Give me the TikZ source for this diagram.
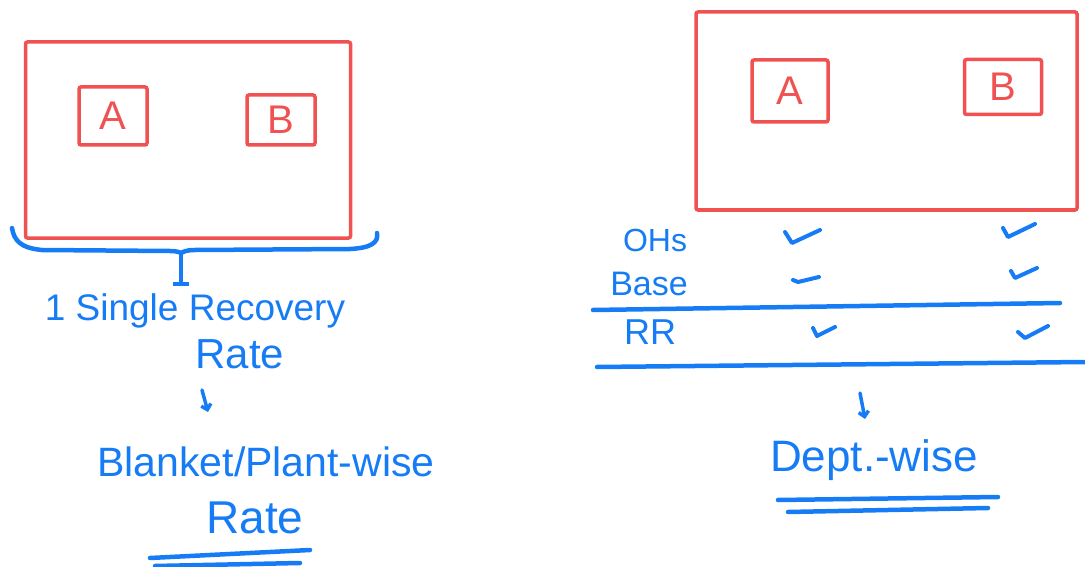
\documentclass[tikz,border=0pt]{standalone}
\usepackage{fontspec}
\setmainfont{Liberation Sans}
\usetikzlibrary{arrows.meta}
\definecolor{inkred}{RGB}{240,82,82}
\definecolor{inkblue}{RGB}{22,124,245}
\tikzset{
  redbox/.style={draw=inkred, line width=3.5pt, rounded corners=2pt, inner sep=0pt},
  redletter/.style={text=inkred, font=\fontsize{40}{40}\selectfont},
  bluestroke/.style={draw=inkblue, line width=4.5pt, line cap=round, line join=round},
  tickmark/.style={draw=inkblue, line width=4pt, line cap=round, line join=round},
  hand/.style={text=inkblue, inner sep=0pt, font=\fontsize{#1}{#1}\selectfont},
  smallarrow/.style={bluestroke, line width=3.5pt, -{Straight Barb[length=5pt,width=10pt]}},
}
\begin{document}
\begin{tikzpicture}[x=1pt,y=-1pt]
\useasboundingbox (0,0) rectangle (1085,567);
% ---------- left side ----------
\node[redbox, minimum width=325pt, minimum height=196pt] (L) at (188,140) {};
\node[redbox, minimum width=68pt, minimum height=58pt, redletter] (A1) at (113,116) {A};
\node[redbox, minimum width=68pt, minimum height=50pt, redletter] (B1) at (281,120) {B};
% brace under the left box
\coordinate (brL) at (12,228);
\coordinate (brM) at (181,253);
\coordinate (brR) at (377,233);
\draw[bluestroke] (brL) .. controls (14,240) and (20,248) .. (42,250)
   -- (170,251) .. controls (176,251) and (179,252) .. (brM)
   .. controls (183,252) and (186,250) .. (195,250) -- (350,249)
   .. controls (370,248) and (379,243) .. (brR);
\node[hand=37] (S) at (195,311) {1 Single Recovery};
\node[hand=42] (R1) at (240,354) {Rate};
\draw[bluestroke, line width=3.5pt, -{Bar[width=16pt]}, shorten >=8pt] (brM) -- (S.north -| brM);
\coordinate (a1s) at (202,390);
\coordinate (a1e) at (208,412);
\draw[smallarrow] (a1s) -- (a1e);
\node[hand=41] (BP) at (266,462) {Blanket/Plant-wise};
\node[hand=46] (R2) at (255,518) {Rate};
\coordinate (u1a) at (150,558); \coordinate (u1b) at (310,550);
\coordinate (u2a) at (155,566); \coordinate (u2b) at (300,563);
\draw[bluestroke] (u1a) -- (u1b);
\draw[bluestroke] (u2a) -- (u2b);
% ---------- right side ----------
\node[redbox, minimum width=381pt, minimum height=198pt] (R) at (886.5,111) {};
\node[redbox, minimum width=76pt, minimum height=62pt, redletter] (A2) at (790,91) {A};
\node[redbox, minimum width=77pt, minimum height=55pt, redletter] (B2) at (1003,87) {B};
\node[hand=32] (OH) at (655,240) {OHs};
\node[hand=34] (BA) at (649,284) {Base};
\node[hand=36] (RR) at (650,332) {RR};
\coordinate (l1a) at (593,310); \coordinate (l1b) at (1060,303);
\coordinate (l2a) at (597,367); \coordinate (l2b) at (1085,362);
\draw[bluestroke] (l1a) -- (l1b);
\draw[bluestroke] (l2a) -- (l2b);
% check marks
\draw[tickmark] (785,232) -- (792,243) -- (820,230);
\draw[tickmark] (1003,228) -- (1008,237) -- (1035,224);
\draw[tickmark] (793,280) -- (798,282) -- (819,277);
\draw[tickmark] (1011,271) -- (1015,278) -- (1037,268);
\draw[tickmark] (813,328) -- (817,336) -- (835,327);
\draw[tickmark] (1018,332) -- (1025,338) -- (1048,326);
\coordinate (a2s) at (860,393);
\coordinate (a2e) at (865,419);
\draw[smallarrow] (a2s) -- (a2e);
\node[hand=44] (DW) at (874,460) {Dept.-wise};
\coordinate (d1a) at (778,500); \coordinate (d1b) at (998,497);
\coordinate (d2a) at (788,512); \coordinate (d2b) at (988,508);
\draw[bluestroke] (d1a) -- (d1b);
\draw[bluestroke] (d2a) -- (d2b);
\end{tikzpicture}
\end{document}
